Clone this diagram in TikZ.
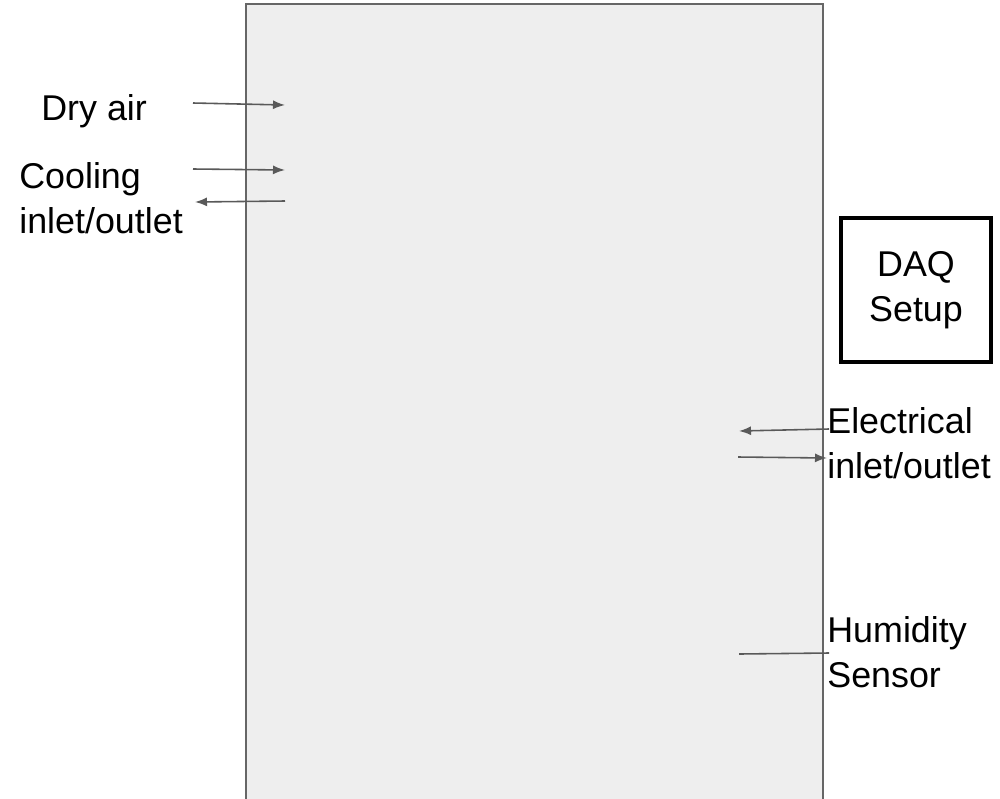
\documentclass[tikz,border=0pt]{standalone}
\usepackage{fontspec}
\setmainfont{Liberation Sans}
\usepackage{tikz}
\usetikzlibrary{arrows.meta, positioning}
\definecolor{cajagris}{RGB}{238,238,238}
\definecolor{bordegris}{RGB}{102,102,102}
\definecolor{flechagris}{RGB}{89,89,89}
\newcommand{\rotfont}{\fontsize{20.4}{25.5}\selectfont}
\tikzset{>={Latex[length=2.4mm,width=1.8mm]},
  rotulo/.style={font=\rotfont, inner sep=0pt, align=left},
  flecha/.style={flechagris, line width=0.9pt}}

\begin{document}
\begin{tikzpicture}[x=0.02cm, y=-0.02cm]
			\clip (0,0) rectangle (1000,798);
			\fill[white] (0,0) rectangle (1000,798);

			% camara
			\draw [bordegris, fill=cajagris, line width=1.1pt] (246,4) rectangle (823,820);

			% rotulos izquierda
			\node [rotulo, anchor=base west] (dryair) at (41,120) {Dry air};
			\node [rotulo, anchor=base west] (cooling) at (19,233) {Cooling\\inlet/outlet};

			% rotulos derecha
			\node [rotulo, anchor=base west] (electrical) at (827,478) {Electrical\\inlet/outlet};
			\node [rotulo, anchor=base west] (humidity) at (827,687) {Humidity\\Sensor};
			\node [draw, line width=2.1pt, minimum width=3.0cm, minimum height=2.88cm, font=\rotfont, align=center] (daq) at (916,290) {DAQ\\Setup};

			% extremos
			\coordinate (dryA) at (193,103);  \coordinate (dryB) at (285,105);
			\coordinate (coolA) at (193,169); \coordinate (coolB) at (285,170);
			\coordinate (coolC) at (285,201); \coordinate (coolD) at (195,202);
			\coordinate (elecA) at (829,429); \coordinate (elecB) at (739,431);
			\coordinate (elecC) at (738,457); \coordinate (elecD) at (827,458);
			\coordinate (humA) at (739,654);  \coordinate (humB) at (829,653);

			\draw [flecha, ->] (dryA) -- (dryB);
			\draw [flecha, ->] (coolA) -- (coolB);
			\draw [flecha, ->] (coolC) -- (coolD);
			\draw [flecha, ->] (elecA) -- (elecB);
			\draw [flecha, ->] (elecC) -- (elecD);
			\draw [flecha] (humA) -- (humB);
		\end{tikzpicture}
\end{document}
